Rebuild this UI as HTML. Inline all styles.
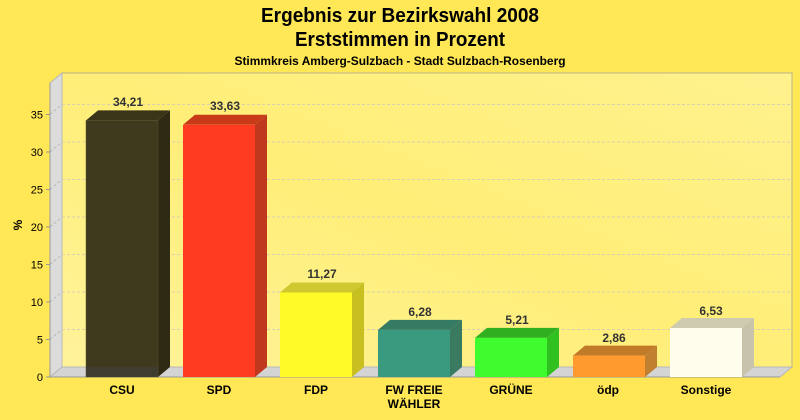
<!DOCTYPE html>
<html><head><meta charset="utf-8"><style>
html,body{margin:0;padding:0;background:#FFE755;}
svg{display:block;font-family:"Liberation Sans",sans-serif;}
</style></head><body>
<svg width="800" height="420" viewBox="0 0 800 420" xmlns="http://www.w3.org/2000/svg">
<defs>
<linearGradient id="wall" x1="0" y1="1" x2="1" y2="0">
<stop offset="0" stop-color="#FFF39A"/><stop offset="0.5" stop-color="#FFEE77"/><stop offset="1" stop-color="#FFF28E"/>
</linearGradient>
</defs>
<rect width="800" height="420" fill="#FFE755"/>
<text x="400" y="22" text-anchor="middle" font-size="20" font-weight="bold" textLength="278" lengthAdjust="spacingAndGlyphs">Ergebnis zur Bezirkswahl 2008</text>
<text x="400" y="46" text-anchor="middle" font-size="20" font-weight="bold" textLength="210" lengthAdjust="spacingAndGlyphs">Erststimmen in Prozent</text>
<text x="400" y="65" text-anchor="middle" font-size="12" font-weight="bold" textLength="331" lengthAdjust="spacingAndGlyphs">Stimmkreis Amberg-Sulzbach - Stadt Sulzbach-Rosenberg</text>
<!-- back wall -->
<rect x="62" y="73" width="730" height="294" fill="url(#wall)" stroke="#B8B48A" stroke-width="1"/>
<!-- left wall -->
<polygon points="50,83 62,73 62,367 50,377" fill="#DCDCDC" stroke="#B8B8B8" stroke-width="1"/>
<!-- floor -->
<polygon points="50,377 62,367 792,367 780,377" fill="#D4D4D4" stroke="#B8B8B8" stroke-width="1"/>
<g stroke="#D8D0B0" stroke-dasharray="3,2" stroke-width="1">
<line x1="62" y1="329.5" x2="792" y2="329.5"/><line x1="62" y1="292" x2="792" y2="292"/>
<line x1="62" y1="254.5" x2="792" y2="254.5"/><line x1="62" y1="217" x2="792" y2="217"/>
<line x1="62" y1="179.5" x2="792" y2="179.5"/><line x1="62" y1="142" x2="792" y2="142"/>
<line x1="62" y1="104.5" x2="792" y2="104.5"/>
</g>
<g stroke="#B8B8B8" stroke-dasharray="3,2"><line x1="50" y1="339.5" x2="62" y2="329.5"/><line x1="50" y1="302" x2="62" y2="292"/><line x1="50" y1="264.5" x2="62" y2="254.5"/><line x1="50" y1="227" x2="62" y2="217"/><line x1="50" y1="189.5" x2="62" y2="179.5"/><line x1="50" y1="152" x2="62" y2="142"/><line x1="50" y1="114.5" x2="62" y2="104.5"/></g>
<line x1="50" y1="83" x2="50" y2="377" stroke="#999"/>
<line x1="50" y1="377" x2="780" y2="377" stroke="#999"/>
<g font-size="11" text-anchor="end" fill="#000">
<text x="43" y="381">0</text><text x="43" y="343.5">5</text><text x="43" y="306">10</text>
<text x="43" y="268.5">15</text><text x="43" y="231">20</text><text x="43" y="193.5">25</text>
<text x="43" y="156">30</text><text x="43" y="118.5">35</text>
</g>
<g stroke="#999"><line x1="46" y1="377" x2="50" y2="377"/><line x1="46" y1="339.5" x2="50" y2="339.5"/><line x1="46" y1="302" x2="50" y2="302"/><line x1="46" y1="264.5" x2="50" y2="264.5"/><line x1="46" y1="227" x2="50" y2="227"/><line x1="46" y1="189.5" x2="50" y2="189.5"/><line x1="46" y1="152" x2="50" y2="152"/><line x1="46" y1="114.5" x2="50" y2="114.5"/></g>
<text x="22" y="225" font-size="12" font-weight="bold" transform="rotate(-90 22 225)" text-anchor="middle">%</text>

<!-- bars: front x, top y -->
<g>
<polygon points="86,120.4 98,110.4 170,110.4 158,120.4" fill="#3A3518"/>
<polygon points="158,120.4 170,110.4 170,367 158,377" fill="#2E2A14"/>
<rect x="86" y="120.4" width="72" height="256.6" fill="#3F3A1E" stroke="#5A5530" stroke-width="0.5"/>
<rect x="86" y="367" width="72" height="10" fill="#404040" opacity="0.5"/>

<polygon points="183,124.8 195,114.8 267,114.8 255,124.8" fill="#C83A18"/>
<polygon points="255,124.8 267,114.8 267,367 255,377" fill="#C0391E"/>
<rect x="183" y="124.8" width="72" height="252.2" fill="#FF3C22"/>

<polygon points="280,292.5 292,282.5 364,282.5 352,292.5" fill="#D0C830"/>
<polygon points="352,292.5 364,282.5 364,367 352,377" fill="#C8C020"/>
<rect x="280" y="292.5" width="72" height="84.5" fill="#FFFA28"/>

<polygon points="378,329.9 390,319.9 462,319.9 450,329.9" fill="#357A62"/>
<polygon points="450,329.9 462,319.9 462,367 450,377" fill="#3A7A60"/>
<rect x="378" y="329.9" width="72" height="47.1" fill="#3A9A80"/>

<polygon points="475,337.9 487,327.9 559,327.9 547,337.9" fill="#30B020"/>
<polygon points="547,337.9 559,327.9 559,367 547,377" fill="#30C020"/>
<rect x="475" y="337.9" width="72" height="39.1" fill="#3EFC2E"/>

<polygon points="573,355.6 585,345.6 657,345.6 645,355.6" fill="#C07A28"/>
<polygon points="645,355.6 657,345.6 657,367 645,377" fill="#C08030"/>
<rect x="573" y="355.6" width="72" height="21.4" fill="#FF9A2E"/>

<polygon points="670,328 682,318 754,318 742,328" fill="#CFCBB0"/>
<polygon points="742,328 754,318 754,367 742,377" fill="#C8C4AC"/>
<rect x="670" y="328" width="72" height="49" fill="#FFFDEC"/>
</g>
<g font-size="12" font-weight="bold" fill="#333" text-anchor="middle">
<text x="128" y="106">34,21</text><text x="225" y="110">33,63</text><text x="322" y="278">11,27</text>
<text x="420" y="316">6,28</text><text x="517" y="324">5,21</text><text x="614" y="342">2,86</text><text x="711" y="315">6,53</text>
</g>
<g font-size="12" font-weight="bold" fill="#000" text-anchor="middle">
<text x="122" y="394">CSU</text><text x="219" y="394">SPD</text><text x="316" y="394">FDP</text>
<text x="414" y="394">FW FREIE</text><text x="414" y="408">WÄHLER</text>
<text x="511" y="394">GRÜNE</text><text x="608" y="394">ödp</text><text x="706" y="394">Sonstige</text>
</g>
</svg>
</body></html>
